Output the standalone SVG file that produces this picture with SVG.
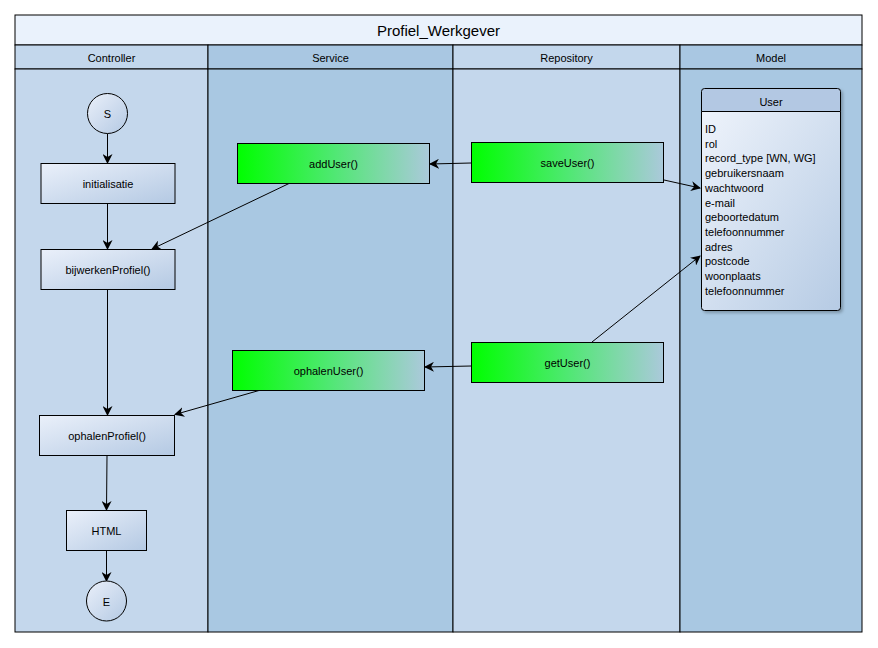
<svg xmlns="http://www.w3.org/2000/svg" width="878" height="648" viewBox="0 0 878 648">
<defs>
<style>
text{font-family:"Liberation Sans",Arial,sans-serif;fill:#000;}
.lbl{font-size:11px;text-anchor:middle;dominant-baseline:central;}
.hdr{font-size:11px;text-anchor:middle;dominant-baseline:central;}
.attr{font-size:11px;}
.ln{stroke:#000;stroke-width:1;}
.box{fill:url(#blueGrad);stroke:#000;stroke-width:1;}
.gbox{fill:url(#greenGrad);stroke:#000;stroke-width:1;}
.con{fill:none;stroke:#000;stroke-width:1;marker-end:url(#arr);}
</style>
<linearGradient id="blueGrad" x1="0" y1="0" x2="1" y2="1">
<stop offset="0" stop-color="#eaf0fa"/>
<stop offset="1" stop-color="#b4c9e3"/>
</linearGradient>
<linearGradient id="greenGrad" x1="0" y1="0" x2="1" y2="0">
<stop offset="0" stop-color="#00ff00"/>
<stop offset="0.5" stop-color="#4fe872"/>
<stop offset="1" stop-color="#abc9db"/>
</linearGradient>
<linearGradient id="userGrad" x1="0" y1="0" x2="1" y2="1">
<stop offset="0" stop-color="#eef3fb"/>
<stop offset="1" stop-color="#b6cbe4"/>
</linearGradient>
<marker id="arr" viewBox="0 0 10 10" refX="9" refY="5" markerWidth="10" markerHeight="10" markerUnits="userSpaceOnUse" orient="auto">
<path d="M0,0 L10,5 L0,10 L3,5 z" fill="#000"/>
</marker>
<filter id="sh" x="-10%" y="-10%" width="130%" height="130%">
<feDropShadow dx="2" dy="2" stdDeviation="1.5" flood-color="#000" flood-opacity="0.25"/>
</filter>
</defs>
<rect width="878" height="648" fill="#fff"/>
<g id="pool">
<rect x="15" y="15" width="847" height="30" fill="#eaf2fc" stroke="#000"/>
<text x="438.5" y="30.5" style="font-size:15px;text-anchor:middle;dominant-baseline:central;">Profiel_Werkgever</text>
</g>
<g id="lane-controller">
<rect x="15" y="45" width="193" height="24" fill="#c3d7ec" stroke="#000"/>
<rect x="15" y="69" width="193" height="563" fill="#c4d7ec" stroke="#000"/>
<text class="hdr" x="111.5" y="57.5">Controller</text>
</g>
<g id="lane-service">
<rect x="208" y="45" width="245" height="24" fill="#a9c7e2" stroke="#000"/>
<rect x="208" y="69" width="245" height="563" fill="#a9c8e2" stroke="#000"/>
<text class="hdr" x="330.5" y="57.5">Service</text>
</g>
<g id="lane-repository">
<rect x="453" y="45" width="227" height="24" fill="#c3d7ec" stroke="#000"/>
<rect x="453" y="69" width="227" height="563" fill="#c4d7ec" stroke="#000"/>
<text class="hdr" x="566.5" y="57.5">Repository</text>
</g>
<g id="lane-model">
<rect x="680" y="45" width="182" height="24" fill="#a9c7e2" stroke="#000"/>
<rect x="680" y="69" width="182" height="563" fill="#a9c8e2" stroke="#000"/>
<text class="hdr" x="771" y="57.5">Model</text>
</g>
<g id="connectors">
<path class="con" d="M107.5,133.5 L107.5,163"/>
<path class="con" d="M107.5,203.5 L107.5,249"/>
<path class="con" d="M107.5,289.5 L107.5,415"/>
<path class="con" d="M107,455.5 L106.5,510"/>
<path class="con" d="M106.5,550.5 L106.5,581"/>
<path class="con" d="M471,163 L430,164"/>
<path class="con" d="M289,183.5 L152,249"/>
<path class="con" d="M664,180 L700,188"/>
<path class="con" d="M471,366 L425,367"/>
<path class="con" d="M259,390.5 L175,414.5"/>
<path class="con" d="M592,342 L700,256"/>
</g>
<g id="start">
<circle cx="107.5" cy="113.5" r="20" class="box"/>
<text class="lbl" x="107.5" y="114">S</text>
</g>
<g id="initialisatie">
<rect x="41" y="163.5" width="134" height="40" class="box"/>
<text class="lbl" x="108" y="184">initialisatie</text>
</g>
<g id="bijwerkenProfiel">
<rect x="41" y="249.5" width="134" height="40" class="box"/>
<text class="lbl" x="108" y="270">bijwerkenProfiel()</text>
</g>
<g id="ophalenProfiel">
<rect x="39.5" y="415.5" width="135" height="40" class="box"/>
<text class="lbl" x="107" y="436">ophalenProfiel()</text>
</g>
<g id="html">
<rect x="66.5" y="510.5" width="80" height="40" class="box"/>
<text class="lbl" x="106.5" y="531">HTML</text>
</g>
<g id="end">
<circle cx="106.5" cy="601" r="20" class="box"/>
<text class="lbl" x="106.5" y="601.5">E</text>
</g>
<g id="addUser">
<rect x="237.5" y="143.5" width="192" height="40" class="gbox"/>
<text class="lbl" x="333.5" y="164">addUser()</text>
</g>
<g id="saveUser">
<rect x="471.5" y="142.5" width="192" height="40" class="gbox"/>
<text class="lbl" x="567.5" y="163">saveUser()</text>
</g>
<g id="ophalenUser">
<rect x="232.5" y="350.5" width="192" height="40" class="gbox"/>
<text class="lbl" x="328.5" y="371">ophalenUser()</text>
</g>
<g id="getUser">
<rect x="471.5" y="342.5" width="192" height="40" class="gbox"/>
<text class="lbl" x="567.5" y="363">getUser()</text>
</g>
<g id="user">
<g filter="url(#sh)">
<path d="M701.5,111.5 L701.5,91.5 Q701.5,88.5 704.5,88.5 L837.5,88.5 Q840.5,88.5 840.5,91.5 L840.5,111.5 Z" fill="#b3c8e3" stroke="#000"/>
<path d="M701.5,111.5 L840.5,111.5 L840.5,307.5 Q840.5,310.5 837.5,310.5 L704.5,310.5 Q701.5,310.5 701.5,307.5 Z" fill="url(#userGrad)" stroke="#000"/>
</g>
<text class="lbl" x="771" y="101.5">User</text>
<text class="attr" x="705" y="133">ID</text>
<text class="attr" x="705" y="147.7">rol</text>
<text class="attr" x="705" y="162.4">record_type [WN, WG]</text>
<text class="attr" x="705" y="177.1">gebruikersnaam</text>
<text class="attr" x="705" y="191.8">wachtwoord</text>
<text class="attr" x="705" y="206.5">e-mail</text>
<text class="attr" x="705" y="221.2">geboortedatum</text>
<text class="attr" x="705" y="235.9">telefoonnummer</text>
<text class="attr" x="705" y="250.6">adres</text>
<text class="attr" x="705" y="265.3">postcode</text>
<text class="attr" x="705" y="280">woonplaats</text>
<text class="attr" x="705" y="294.7">telefoonnummer</text>
</g>
</svg>
